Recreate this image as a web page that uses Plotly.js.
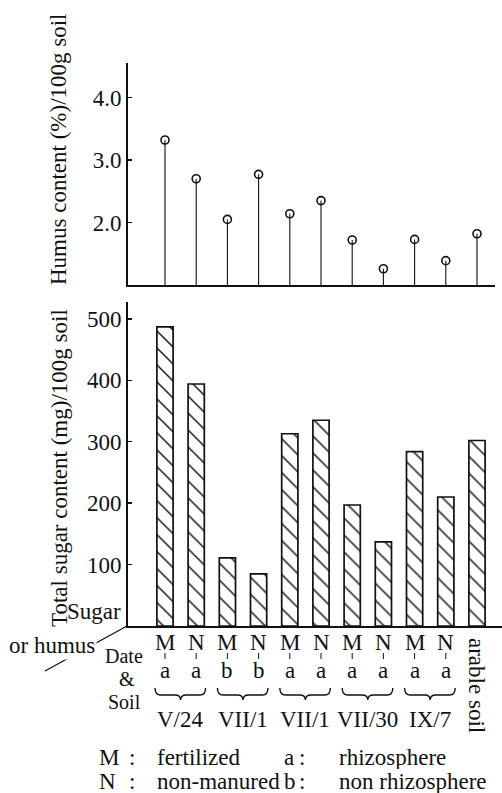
<!DOCTYPE html>
<html>
<head>
<meta charset="utf-8">
<script src="https://cdn.plot.ly/plotly-3.0.1.min.js"></script>
<style>html,body{margin:0;padding:0;background:#fff;}</style>
</head>
<body>
<div id="chart" style="width:502px;height:793px;"></div>
<script>
// ---- data ----
const dateGroups = ['V/24', 'VII/1', 'VII/1', 'VII/30', 'IX/7'];
const treatment  = ['M', 'N', 'M', 'N', 'M', 'N', 'M', 'N', 'M', 'N', 'arable soil'];
const soilType   = ['a', 'a', 'b', 'b', 'a', 'a', 'a', 'a', 'a', 'a', ''];
const humus      = [3.32, 2.70, 2.05, 2.77, 2.14, 2.35, 1.72, 1.26, 1.73, 1.39, 1.82];
const sugar      = [487, 394, 111, 85, 313, 335, 197, 137, 284, 210, 302];
const humusTicks = [2, 3, 4];
const humusTickText = ['2.0', '3.0', '4.0'];
const sugarTicks = [100, 200, 300, 400, 500];
const legendRows = [
  ['M', ':', 'fertilized', 'a', ':', 'rhizosphere'],
  ['N', ':', 'non-manured', 'b', ':', 'non rhizosphere']
];

// ---- layout helpers ----
const W = 502, H = 793, ML = 128, MR = 0, MT = 63, MB = 167;
const PW = W - ML - MR, PH = H - MT - MB;
const xp = px => (px - ML) / PW;
const yp = py => (H - MB - py) / PH;
const FONT = 'Liberation Serif';
const INK = '#111111';
const humusBase = 1.0;

const idx = sugar.map((_, i) => i);

// stems for humus
const stemX = [], stemY = [];
idx.forEach(i => { stemX.push(i, i, null); stemY.push(humusBase, humus[i], null); });

const traces = [
  {
    type: 'bar', x: idx, y: sugar, xaxis: 'x', yaxis: 'y', width: 0.52,
    marker: {
      color: '#fff',
      line: {color: INK, width: 1.7},
      pattern: {shape: '\\', size: 12, solidity: 0.12, fgcolor: INK, bgcolor: '#fff'}
    },
    hoverinfo: 'skip'
  },
  {
    type: 'scatter', mode: 'lines', x: stemX, y: stemY, xaxis: 'x2', yaxis: 'y2',
    line: {color: INK, width: 1.1}, hoverinfo: 'skip'
  },
  {
    type: 'scatter', mode: 'markers', x: idx, y: humus, xaxis: 'x2', yaxis: 'y2',
    marker: {symbol: 'circle-open', size: 8, color: INK, line: {width: 1.6, color: INK}},
    hoverinfo: 'skip'
  }
];

const ann = [];
const shapes = [];
const txt = (text, x, y, opts) => Object.assign({
  text: text, x: x, y: y, xref: 'paper', yref: 'paper', showarrow: false,
  font: {family: FONT, size: 23, color: INK}, xanchor: 'center', yanchor: 'middle'
}, opts || {});
const smallFont = {family: FONT, size: 20, color: INK};

// axis titles
ann.push(txt('Humus content (%)/100g soil', xp(59), yp(149), {textangle: -90}));
ann.push(txt('Total sugar content (mg)/100g soil', xp(59), yp(468), {textangle: -90}));

// corner labels
shapes.push({type: 'line', xref: 'paper', yref: 'paper', x0: xp(127), y0: yp(626), x1: xp(45), y1: yp(671),
  line: {color: INK, width: 1.3}});
ann.push(txt('Sugar', xp(123), yp(611), {xanchor: 'right'}));
ann.push(txt('or humus', xp(52), yp(645), {bgcolor: '#fff'}));
ann.push(txt('Date', xp(124), yp(656), {font: smallFont}));
ann.push(txt('&amp;', xp(127), yp(679), {font: smallFont}));
ann.push(txt('Soil', xp(124), yp(702), {font: smallFont}));

// category labels under bars
idx.forEach(i => {
  if (soilType[i]) {
    ann.push(txt(treatment[i], i, yp(642), {xref: 'x'}));
    ann.push(txt(soilType[i], i, yp(670), {xref: 'x'}));
    shapes.push({type: 'line', xref: 'x', yref: 'paper', x0: i, x1: i, y0: yp(653), y1: yp(659),
      line: {color: INK, width: 1}});
  } else {
    ann.push(txt(treatment[i], i, yp(685), {xref: 'x', textangle: 90}));
  }
});

// braces + date labels
dateGroups.forEach((d, g) => {
  const a = 2 * g - 0.32, b = 2 * g + 1.3, m = 2 * g + 0.5, k = 0.18;
  const yTop = yp(688), yMid = yp(695), yDip = yp(700);
  const path = `M ${a},${yTop} Q ${a},${yMid} ${a + k},${yMid} L ${m - k},${yMid} Q ${m},${yMid} ${m},${yDip} ` +
               `Q ${m},${yMid} ${m + k},${yMid} L ${b - k},${yMid} Q ${b},${yMid} ${b},${yTop}`;
  shapes.push({type: 'path', xref: 'x', yref: 'paper', path: path, line: {color: INK, width: 1.4}});
  ann.push(txt(d, m, yp(719), {xref: 'x'}));
});

// legend text
const legendX = [97, 127, 155, 282, 297, 337];
legendRows.forEach((row, r) => {
  row.forEach((t, c) => {
    ann.push(txt(t, xp(legendX[c]), yp(757 + 24 * r), {xanchor: 'left', height: 24}));
  });
});

const xLo = (ML - 165) / 31.2, xHiBottom = (W - 165) / 31.2, xHiTop = (495 - 165) / 31.2;
const layout = {
  width: W, height: H,
  margin: {l: ML, r: MR, t: MT, b: MB, pad: 0},
  paper_bgcolor: '#fff', plot_bgcolor: 'rgba(0,0,0,0)',
  showlegend: false,
  font: {family: FONT, size: 23, color: INK},
  xaxis: {
    domain: [0, 1], range: [xLo, xHiBottom], anchor: 'y',
    showgrid: false, zeroline: false, showticklabels: false, ticks: '',
    showline: true, linecolor: INK, linewidth: 2
  },
  yaxis: {
    domain: [0, (H - MB - 302) / PH], range: [0, (H - MB - 302) / 0.6142], anchor: 'x',
    showgrid: false, zeroline: false, tickvals: sugarTicks,
    ticks: 'inside', ticklen: 4, tickwidth: 1.5, tickcolor: INK,
    showline: true, linecolor: INK, linewidth: 1.8,
    tickfont: {family: FONT, size: 23, color: INK}
  },
  xaxis2: {
    domain: [0, (495 - ML) / PW], range: [xLo, xHiTop], anchor: 'y2',
    showgrid: false, zeroline: false, showticklabels: false, ticks: '',
    showline: true, linecolor: INK, linewidth: 2
  },
  yaxis2: {
    domain: [(H - MB - 285) / PH, 1], range: [humusBase, humusBase + (285 - MT) / 62.5], anchor: 'x2',
    showgrid: false, zeroline: false, tickvals: humusTicks, ticktext: humusTickText,
    ticks: 'inside', ticklen: 4, tickwidth: 1.5, tickcolor: INK,
    showline: true, linecolor: INK, linewidth: 1.8,
    tickfont: {family: FONT, size: 23, color: INK}
  },
  annotations: ann,
  shapes: shapes
};

Plotly.newPlot('chart', traces, layout, {staticPlot: true, displayModeBar: false});
</script>
</body>
</html>
